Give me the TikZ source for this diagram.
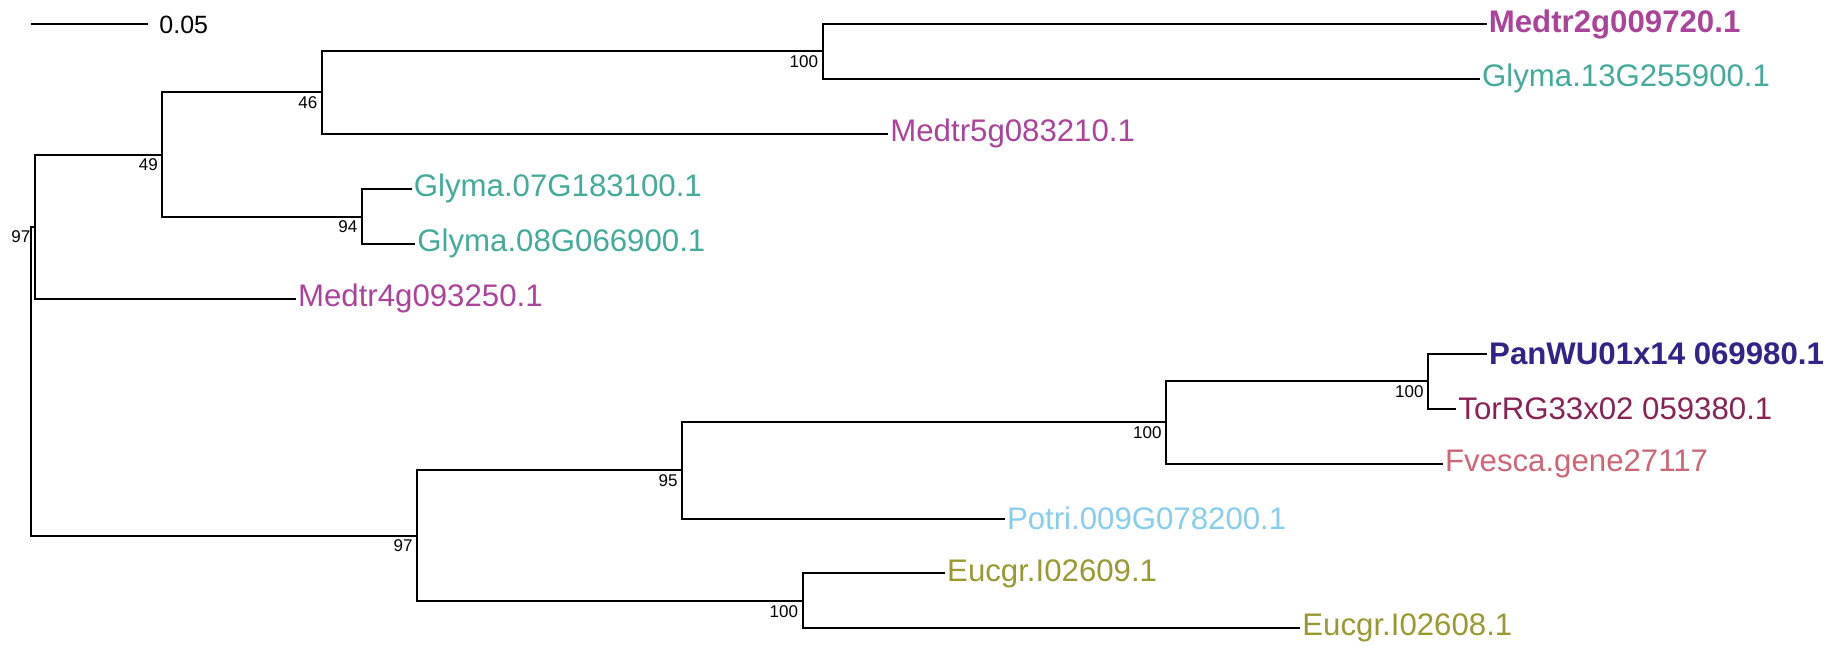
\documentclass[tikz,border=0pt]{standalone}
\usepackage{fontspec}
\setmainfont{Liberation Sans}
\usetikzlibrary{positioning}
\definecolor{medtr}{HTML}{AA4499}
\definecolor{glyma}{HTML}{44AA99}
\definecolor{panwu}{HTML}{332288}
\definecolor{torrg}{HTML}{882255}
\definecolor{fvesca}{HTML}{CC6677}
\definecolor{potri}{HTML}{88CCEE}
\definecolor{eucgr}{HTML}{999933}
\begin{document}
\begin{tikzpicture}[x=0.5pt,y=-0.5pt,
  branch/.style={line width=1pt},
  leaf/.style={anchor=west,inner xsep=1pt,inner ysep=0pt,font=\fontsize{15.6}{18}\selectfont},
  leafbold/.style={leaf,font=\fontsize{15.6}{18}\selectfont\bfseries},
  boot/.style={inner sep=0pt,font=\fontsize{8.5}{10}\selectfont}]
  \useasboundingbox (0,0) rectangle (1838,645);

  % ---------- Scale bar ----------
  \coordinate (sb0) at (30.7,24);
  \coordinate (sb1) at (148.3,24);
  \draw[branch] (sb0) -- (sb1);
  \node[anchor=west,inner sep=0pt,font=\fontsize{12.5}{14}\selectfont] (sblab) at (159,25) {0.05};

  % ---------- Inner nodes ----------
  \coordinate (root) at (31,381);
  \coordinate (nA) at (34.7,226.6);
  \coordinate (nB) at (162.3,154.5);
  \coordinate (nC) at (321.7,92.4);
  \coordinate (nD) at (822.5,51.3);
  \coordinate (nE) at (361.7,216.5);
  \coordinate (nF) at (417,535.7);
  \coordinate (nG) at (682,470.3);
  \coordinate (nH) at (1166,422.3);
  \coordinate (nI) at (1428,380.8);
  \coordinate (nJ) at (802.5,601.3);

  % ---------- Leaves ----------
  \node[leafbold,text=medtr] (medtr2g) at (1486.5,24) {Medtr2g009720.1};
  \node[leaf,text=glyma] (glyma13) at (1479.7,78.9) {Glyma.13G255900.1};
  \node[leaf,text=medtr] (medtr5g) at (888,133.9) {Medtr5g083210.1};
  \node[leaf,text=glyma] (glyma07) at (411.5,188.8) {Glyma.07G183100.1};
  \node[leaf,text=glyma] (glyma08) at (415,243.8) {Glyma.08G066900.1};
  \node[leaf,text=medtr] (medtr4g) at (295.7,298.7) {Medtr4g093250.1};
  \node[leafbold,text=panwu] (panwu) at (1486.8,353.6) {PanWU01x14 069980.1};
  \node[leaf,text=torrg] (torrg) at (1456,408.6) {TorRG33x02 059380.1};
  \node[leaf,text=fvesca] (fvesca) at (1442.6,463.5) {Fvesca.gene27117};
  \node[leaf,text=potri] (potri) at (1004.6,518.5) {Potri.009G078200.1};
  \node[leaf,text=eucgr] (eucgr09) at (944.8,573.4) {Eucgr.I02609.1};
  \node[leaf,text=eucgr] (eucgr08) at (1300,628.3) {Eucgr.I02608.1};

  % ---------- Branches ----------
  \draw[branch] (root) |- (nA);
  \draw[branch] (root) |- (nF);
  \draw[branch] (nA) |- (nB);
  \draw[branch] (nA) |- (medtr4g.west);
  \draw[branch] (nB) |- (nC);
  \draw[branch] (nB) |- (nE);
  \draw[branch] (nC) |- (nD);
  \draw[branch] (nC) |- (medtr5g.west);
  \draw[branch] (nD) |- (medtr2g.west);
  \draw[branch] (nD) |- (glyma13.west);
  \draw[branch] (nE) |- (glyma07.west);
  \draw[branch] (nE) |- (glyma08.west);
  \draw[branch] (nF) |- (nG);
  \draw[branch] (nF) |- (nJ);
  \draw[branch] (nG) |- (nH);
  \draw[branch] (nG) |- (potri.west);
  \draw[branch] (nH) |- (nI);
  \draw[branch] (nH) |- (fvesca.west);
  \draw[branch] (nI) |- (panwu.west);
  \draw[branch] (nI) |- (torrg.west);
  \draw[branch] (nJ) |- (eucgr09.west);
  \draw[branch] (nJ) |- (eucgr08.west);

  % ---------- Bootstrap values ----------
  \node[boot,below left=2pt and 2pt of nA] (bA) {97};
  \node[boot,below left=2pt and 2pt of nB] (bB) {49};
  \node[boot,below left=2pt and 2pt of nC] (bC) {46};
  \node[boot,below left=2pt and 2pt of nD] (bD) {100};
  \node[boot,below left=2pt and 2pt of nE] (bE) {94};
  \node[boot,below left=2pt and 2pt of nF] (bF) {97};
  \node[boot,below left=2pt and 2pt of nG] (bG) {95};
  \node[boot,below left=2pt and 2pt of nH] (bH) {100};
  \node[boot,below left=2pt and 2pt of nI] (bI) {100};
  \node[boot,below left=2pt and 2pt of nJ] (bJ) {100};
\end{tikzpicture}
\end{document}
